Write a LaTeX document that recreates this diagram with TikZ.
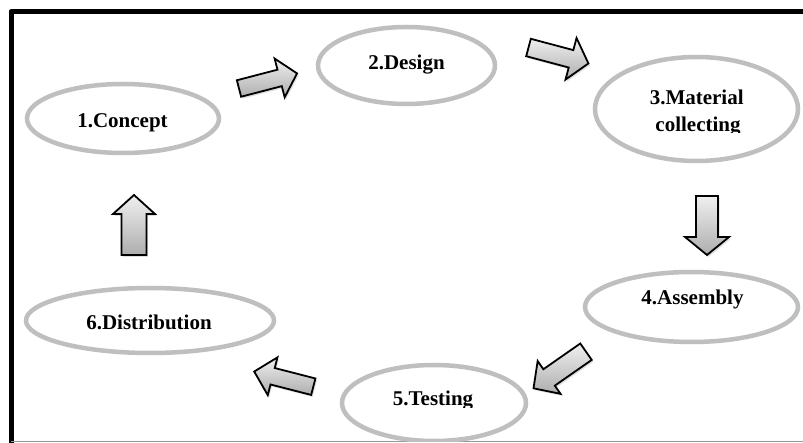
\documentclass[tikz,border=0pt]{standalone}
\usepackage{fontspec}
\setmainfont{Liberation Serif}
\usetikzlibrary{shapes.geometric,shadows}
\tikzset{
  stage/.style={ellipse, draw=black!25, line width=4.5pt, inner sep=0pt},
  label/.style={font=\fontsize{21}{25}\selectfont\bfseries, text=black, inner sep=0pt, anchor=base},
  blockarr/.style={draw=black, line width=1.8pt, line join=miter, top color=black!6, bottom color=black!32,
    drop shadow={opacity=0.25, shadow xshift=1.5pt, shadow yshift=-2pt}},
}
% #1 tail, #2 angle, #3 length, #4 shaft width, #5 head width, #6 head length
\newcommand{\blockarrow}[6]{%
  \begin{scope}[shift={#1}, rotate=#2]
    \path[blockarr] (0pt,-#4pt/2) -- ({#3pt-#6pt},-#4pt/2) -- ({#3pt-#6pt},-#5pt/2) -- (#3pt,0pt)
      -- ({#3pt-#6pt},#5pt/2) -- ({#3pt-#6pt},#4pt/2) -- (0pt,#4pt/2) -- cycle;
  \end{scope}}
\begin{document}
\begin{tikzpicture}[x=1pt,y=-1pt]
\useasboundingbox (0,0) rectangle (803,443);
\fill[white] (0,0) rectangle (803,443);
% frame
\draw[line width=5pt, line join=round] (11,445) -- (11,11.5) -- (806,11.5);
\draw[black!40, line width=1pt] (11,441.5) -- (806,441.5);

% stages
\node[stage, minimum width=192pt, minimum height=69pt] (s1) at (123,118.5) {};
\node[stage, minimum width=177pt, minimum height=77pt] (s2) at (406.5,65.5) {};
\node[stage, minimum width=203pt, minimum height=104pt] (s3) at (696.5,109) {};
\node[stage, minimum width=213pt, minimum height=70pt] (s4) at (691.5,307) {};
\begin{scope}
  \clip (0,0) rectangle (803,441);
  \node[stage, minimum width=184pt, minimum height=76pt] (s5) at (434,403) {};
\end{scope}
\node[stage, minimum width=248pt, minimum height=65pt] (s6) at (150,320.5) {};

% labels
\node[label] (t1) at (122.5,127.3) {1.Concept};
\node[label] (t2) at (406.5,70) {2.Design};
\node[label] (t3a) at (696.7,105) {3.Material};
\begin{scope}
  \clip (600,100) rectangle (790,133);
  \node[label] (t3b) at (698,131.5) {collecting};
\end{scope}
\node[label] (t4) at (692.5,305) {4.Assembly};
\begin{scope}
  \clip (360,380) rectangle (510,407);
  \node[label] (t5) at (433,405) {5.Testing};
\end{scope}
\node[label] (t6) at (149,330) {6.Distribution};

% block arrows
\blockarrow{(239,88.5)}{14.6}{60}{17}{40}{18}
\blockarrow{(528.5,47.5)}{-14.9}{62}{18}{43}{18}
\blockarrow{(707,196)}{-90}{59}{22}{44}{18}
\blockarrow{(586,351.7)}{214.9}{64}{20}{40}{19}
\blockarrow{(313.3,386.7)}{165.6}{61}{17}{39}{19}
\blockarrow{(134,255)}{90}{60}{25}{42}{19}
\end{tikzpicture}
\end{document}
